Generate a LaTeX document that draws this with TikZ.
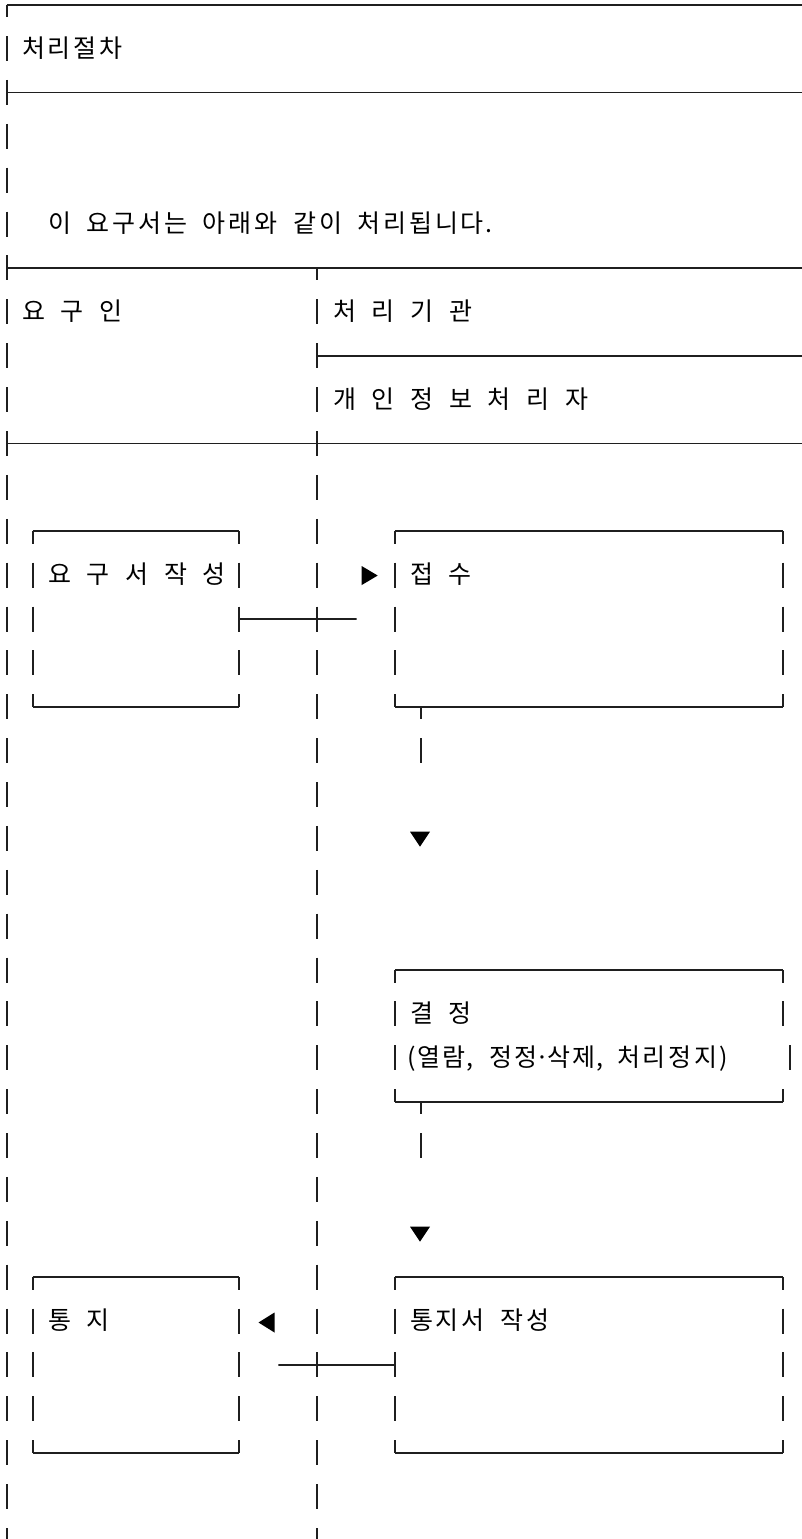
\documentclass[tikz,border=0pt]{standalone}
\usepackage{fontspec}
\newfontfamily\krfont{Noto Sans CJK KR}
\usetikzlibrary{calc}
\newcommand{\rowy}[1]{4.7+#1*43.88}
\newcommand{\krwide}{\krfont\fontsize{25}{30}\selectfont}
% monospaced cells as in the reference
\newcommand{\hc}[1]{\makebox[25.8pt][c]{#1}}
\newcommand{\hsp}{\hspace*{12.9pt}}
\newcommand{\cellbox}[2]{\makebox[#1pt][c]{#2}}
\newcommand{\artbox}[1]{%
  \draw[hline] (#1.north west) -- (#1.north east);
  \draw[hline] (#1.south west) -- (#1.south east);
  \draw[vline] (#1.north west) -- (#1.south west);
  \draw[vline] (#1.north east) -- (#1.south east);
}
\begin{document}
\begin{tikzpicture}[x=1pt,y=-1pt,
  hline/.style={line width=1.6pt, draw=black!88},
  vline/.style={line width=1.7pt, draw=black!88, dash pattern=on 25pt off 18.88pt, dash phase=12.5pt},
  seg/.style={line width=1.7pt, draw=black!88},
  lbl/.style={anchor=base west, inner sep=0pt, font=\krwide},
  area/.style={anchor=north west, inner sep=0pt, outer sep=0pt, draw=none},
  tip/.style={fill=black}
]
\useasboundingbox (0,0) rectangle (802,1539);
\clip (0,0) rectangle (802,1539);

% frame coordinates
\coordinate (f0) at (6.7,{\rowy{0}});
\coordinate (f2) at (6.7,{\rowy{2}});
\coordinate (f6) at (6.7,{\rowy{6}});
\coordinate (f10) at (6.7,{\rowy{10}});
\coordinate (fend) at (6.7,{\rowy{36}});
\coordinate (d6) at (317.3,{\rowy{6}});
\coordinate (d8) at (317.3,{\rowy{8}});
\coordinate (dend) at (317.3,{\rowy{36}});
\coordinate (redge) at (815,0);

\draw[hline] (f0) -- (f0 -| redge);
\draw[hline] (f2) -- (f2 -| redge);
\draw[hline] (f6) -- (f6 -| redge);
\draw[hline] (f10) -- (f10 -| redge);
\draw[hline] (d8) -- (d8 -| redge);
\draw[vline] (f0) -- (fend);
\draw[vline] (d6) -- (dend);

% header texts
\node[lbl] (t1) at (20.6,{\rowy{1}+8.5}) {\hc{처}\hc{리}\hc{절}\hc{차}};
\node[lbl] (t2) at (46.6,{\rowy{5}+8.5}) {\hc{이}\hsp\hc{요}\hc{구}\hc{서}\hc{는}\hsp\hc{아}\hc{래}\hc{와}\hsp\hc{같}\hc{이}\hsp\hc{처}\hc{리}\hc{됩}\hc{니}\hc{다}\makebox[12.9pt][l]{.}};
\node[lbl] (t3) at (20.6,{\rowy{7}+8.5}) {\hc{요}\hsp\hc{구}\hsp\hc{인}};
\node[lbl] (t4) at (331.6,{\rowy{7}+8.5}) {\hc{처}\hsp\hc{리}\hsp\hc{기}\hsp\hc{관}};
\node[lbl] (t5) at (331.6,{\rowy{9}+8.5}) {\hc{개}\hsp\hc{인}\hsp\hc{정}\hsp\hc{보}\hsp\hc{처}\hsp\hc{리}\hsp\hc{자}};

% boxes
\node[area, minimum width=206.6pt, minimum height=175.52pt] (A) at (32.7,{\rowy{12}}) {};
\node[area, minimum width=388pt, minimum height=175.52pt] (B) at (395,{\rowy{12}}) {};
\node[area, minimum width=388pt, minimum height=131.64pt] (C) at (395,{\rowy{22}}) {};
\node[area, minimum width=206.6pt, minimum height=175.52pt] (D) at (32.7,{\rowy{29}}) {};
\node[area, minimum width=388pt, minimum height=175.52pt] (E) at (395,{\rowy{29}}) {};

\artbox{A}
\artbox{B}
\artbox{D}
\artbox{E}
% box C with shifted bar on its second text row
\draw[hline] (C.north west) -- (C.north east);
\draw[hline] (C.south west) -- (C.south east);
\draw[vline] (C.north west) -- (C.south west);
\draw[vline] (C.north east) -- ++(0,56.38);
\draw[seg] (C.south east) -- ++(0,-12.5);
\coordinate (cbar) at (790,{\rowy{24}});
\draw[seg] ($(cbar)+(0,-12.5)$) -- ($(cbar)+(0,12.5)$);

% box texts
\node[lbl] (tA) at (46.6,{\rowy{13}+8.5}) {\hc{요}\hsp\hc{구}\hsp\hc{서}\hsp\hc{작}\hsp\hc{성}};
\node[lbl] (tB) at (408.6,{\rowy{13}+8.5}) {\hc{접}\hsp\hc{수}};
\node[lbl] (tC1) at (408.6,{\rowy{23}+8.5}) {\hc{결}\hsp\hc{정}};
\node[lbl] (tC2) at (406.5,{\rowy{24}+8.5}) {\cellbox{9.5}{(}\cellbox{25}{열}\cellbox{25}{람}\cellbox{8}{,}\hspace*{14.5pt}\cellbox{25}{정}\cellbox{25}{정}\cellbox{7.5}{·}\cellbox{25}{삭}\cellbox{25}{제}\cellbox{8}{,}\hspace*{11.5pt}\cellbox{25.8}{처}\cellbox{25.8}{리}\cellbox{25.8}{정}\cellbox{25.8}{지}\cellbox{9.5}{)}};
\node[lbl] (tD) at (46.6,{\rowy{30}+8.5}) {\hc{통}\hsp\hc{지}};
\node[lbl] (tE) at (408.6,{\rowy{30}+8.5}) {\hc{통}\hc{지}\hc{서}\hsp\hc{작}\hc{성}};

% connectors
\coordinate (c1end) at (356.7,{\rowy{14}});
\draw[hline] (A.east) -- (c1end);
\coordinate (a1) at (369.7,{\rowy{13}+0.4});
\fill[tip] (a1) ++(-8,-9.5) -- ++(16,9.5) -- ++(-16,9.5) -- cycle;

\coordinate (b1) at ($(B.south west)+(25.7,0)$);
\draw[vline] (b1) -- ++(0,56.38);
\coordinate (a2) at (420,{\rowy{19}+0.8});
\fill[tip] (a2) ++(-10,-7.5) -- ++(20,0) -- ++(-10,15) -- cycle;

\coordinate (b2) at ($(C.south west)+(25.7,0)$);
\draw[vline] (b2) -- ++(0,56.38);
\coordinate (a3) at (420,{\rowy{28}+0.8});
\fill[tip] (a3) ++(-10,-7.5) -- ++(20,0) -- ++(-10,15) -- cycle;

\coordinate (c2start) at (278.3,{\rowy{31}});
\draw[hline] (c2start) -- (E.west);
\coordinate (a4) at (266.5,{\rowy{30}+1.4});
\fill[tip] (a4) ++(8,-10) -- ++(-16,10) -- ++(16,10) -- cycle;
\end{tikzpicture}
\end{document}
